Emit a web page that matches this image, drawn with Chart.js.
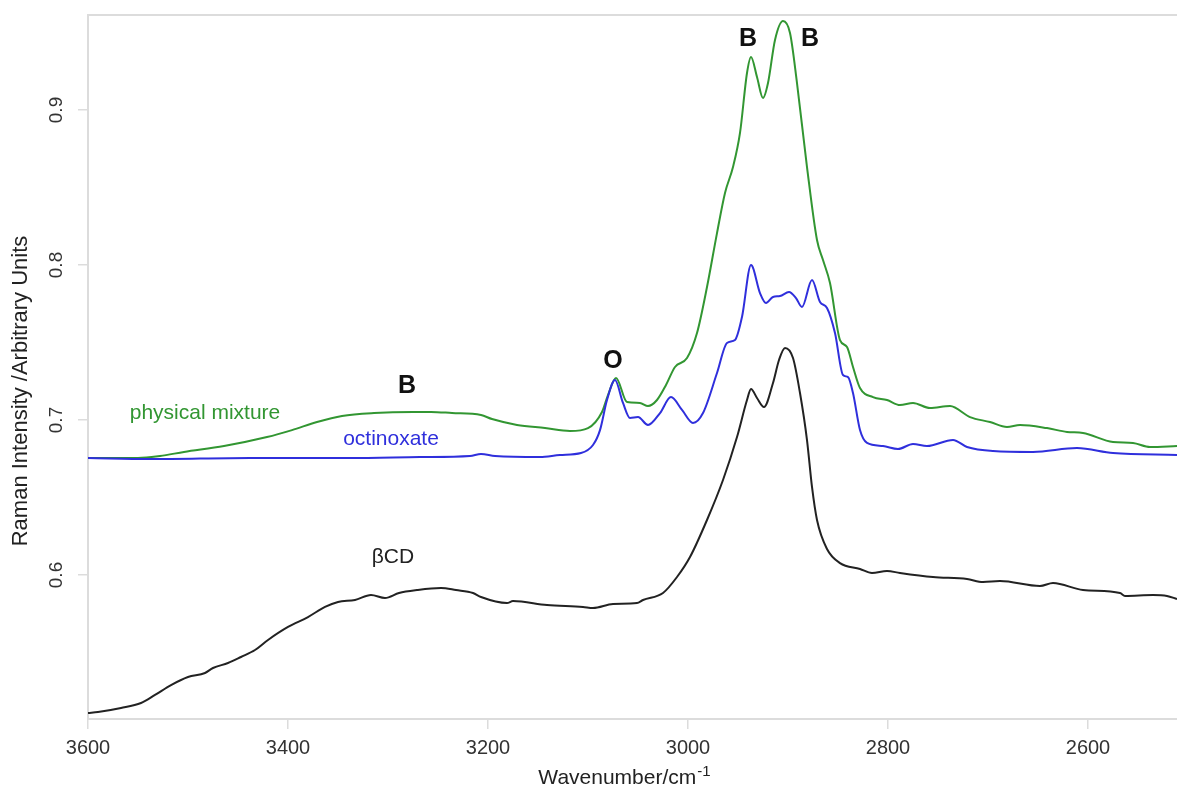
<!DOCTYPE html>
<html lang="en">
<head>
  <meta charset="UTF-8" />
  <title>Raman spectra – βCD, octinoxate, physical mixture</title>
  <script src="https://cdn.jsdelivr.net/npm/chart.js"></script>
  <style>
    html, body { margin: 0; padding: 0; background: #fff; }
    #wrap { position: relative; width: 1177px; height: 791px; }
  </style>
</head>
<body>
  <div id="wrap"><canvas id="raman"></canvas></div>

  <script>
    // axis ticks
    const xTicks = [3600, 3400, 3200, 3000, 2800, 2600];
    const yTicks = [0.6, 0.7, 0.8, 0.9];

    // beta-cyclodextrin
    const bcdWn = [3600, 3590, 3567, 3547, 3533, 3517, 3500, 3483, 3475, 3460, 3447, 3433, 3420, 3400,
      3380, 3363, 3350, 3333, 3317, 3303, 3289, 3271, 3247, 3232, 3215, 3207, 3181, 3175, 3141, 3105,
      3095, 3075, 3051, 3045, 3025, 3011, 2998, 2981, 2965, 2951, 2941, 2937, 2931, 2924, 2915,
      2909, 2903, 2895, 2888, 2881, 2876, 2871, 2861, 2848, 2828, 2816, 2801, 2788, 2755, 2721, 2705,
      2688, 2648, 2635, 2605, 2568, 2563, 2535, 2521, 2511];
    const bcdI = [0.511, 0.5116, 0.5142, 0.5174, 0.5226, 0.529, 0.5342, 0.5368, 0.5400, 0.5432, 0.5471,
      0.5516, 0.5581, 0.5665, 0.5729, 0.5794, 0.5826, 0.5839, 0.5871, 0.5852, 0.5884, 0.5903, 0.5916,
      0.5903, 0.5884, 0.5858, 0.5819, 0.5832, 0.5806, 0.5794, 0.5787, 0.5813, 0.5819, 0.5839, 0.5884,
      0.5987, 0.6116, 0.6355, 0.6613, 0.689, 0.7129, 0.72, 0.7142, 0.7084, 0.7239, 0.7387,
      0.7465, 0.74, 0.7174, 0.6871, 0.6568, 0.6355, 0.6168, 0.6077, 0.6039, 0.6013, 0.6026, 0.6013,
      0.5987, 0.5974, 0.5955, 0.5961, 0.5929, 0.5948, 0.5903, 0.5884, 0.5865, 0.5871, 0.5865, 0.5845];

    // octinoxate
    const octWn = [3600, 3538, 3438, 3338, 3268, 3218, 3207, 3193, 3148, 3128, 3107, 3095, 3088, 3081,
      3073, 3065, 3058, 3050, 3040, 3028, 3017, 3006, 2995, 2985, 2971, 2961, 2953, 2946, 2937, 2928,
      2922, 2915, 2908, 2899, 2892, 2886, 2876, 2868, 2861, 2853, 2845, 2840, 2835, 2828, 2821, 2805,
      2790, 2775, 2761, 2735, 2721, 2695, 2655, 2611, 2575, 2511];
    const octI = [0.6755, 0.6748, 0.6755, 0.6755, 0.6761, 0.6768, 0.6781, 0.6768, 0.6761, 0.6774,
      0.6787, 0.6839, 0.6935, 0.7129, 0.7258, 0.711, 0.7013, 0.7019, 0.6968, 0.7045, 0.7148, 0.7065,
      0.6981, 0.7045, 0.7303, 0.7497, 0.7516, 0.7665, 0.8, 0.7819, 0.7755, 0.7794, 0.78, 0.7826,
      0.7787, 0.7729, 0.7903, 0.7761, 0.7723, 0.7561, 0.729, 0.7277, 0.7174, 0.6935, 0.6852, 0.6832,
      0.6813, 0.6845, 0.6832, 0.6871, 0.6826, 0.68, 0.6794, 0.6819, 0.6787, 0.6774];

    // physical mixture
    const mixWn = [3600, 3550, 3528, 3504, 3464, 3421, 3396, 3371, 3346, 3314, 3275, 3257, 3236, 3207,
      3196, 3171, 3143, 3118, 3100, 3086, 3080, 3072, 3061, 3048, 3040, 3031, 3022, 3013, 3001, 2991,
      2981, 2971, 2963, 2955, 2948, 2941, 2937, 2931, 2925, 2920, 2913, 2905, 2898, 2891, 2881, 2871,
      2865, 2858, 2848, 2841, 2835, 2828, 2815, 2801, 2788, 2775, 2758, 2738, 2718, 2698, 2681, 2668,
      2641, 2621, 2605, 2575, 2555, 2538, 2511];
    const mixI = [0.6755, 0.6755, 0.6768, 0.6794, 0.6832, 0.689, 0.6935, 0.6987, 0.7026, 0.7045,
      0.7052, 0.7052, 0.7045, 0.7032, 0.7006, 0.6968, 0.6948, 0.6929, 0.6948, 0.7052, 0.7161, 0.7271,
      0.7116, 0.711, 0.709, 0.7129, 0.7226, 0.7342, 0.74, 0.7561, 0.7858, 0.8206, 0.8465, 0.8632,
      0.8852, 0.9239, 0.9342, 0.9213, 0.9077, 0.9174, 0.9452, 0.9574, 0.9497, 0.9174, 0.8632, 0.8161,
      0.8032, 0.7884, 0.7516, 0.7471, 0.7342, 0.7206, 0.7148, 0.7129, 0.7097, 0.711, 0.7077, 0.709,
      0.7019, 0.6987, 0.6955, 0.6968, 0.6948, 0.6923, 0.6916, 0.6858, 0.6852, 0.6826, 0.6832];

    const toPoints = (wn, vals) => wn.map((w, i) => ({ x: w, y: vals[i] }));

    const FONT = '"Liberation Sans", Arial, sans-serif';

    // text placed on the plot, in data coordinates
    const notes = [
      { text: 'B', x: 2940, y: 0.9458, font: 'bold 25px ' + FONT, color: '#111' },
      { text: 'B', x: 2878, y: 0.9458, font: 'bold 25px ' + FONT, color: '#111' },
      { text: 'O', x: 3075, y: 0.738, font: 'bold 25px ' + FONT, color: '#111' },
      { text: 'B', x: 3281, y: 0.7219, font: 'bold 25px ' + FONT, color: '#111' },
      { text: 'physical mixture', x: 3483, y: 0.7045, font: '21px ' + FONT, color: '#329632' },
      { text: 'octinoxate', x: 3297, y: 0.6877, font: '21px ' + FONT, color: '#2f2fdc' },
      { text: '\u03b2CD', x: 3295, y: 0.6116, font: '21px ' + FONT, color: '#222' }
    ];

    const frameColor = '#dcdcdc';

    const extras = {
      id: 'extras',
      afterDraw(chart) {
        const { ctx, chartArea: a, scales: { x, y } } = chart;
        ctx.save();

        // top frame line
        ctx.strokeStyle = frameColor;
        ctx.lineWidth = 2;
        ctx.beginPath();
        ctx.moveTo(a.left, a.top);
        ctx.lineTo(a.right, a.top);
        ctx.stroke();

        // y tick labels, rotated
        ctx.fillStyle = '#333';
        ctx.font = '19px ' + FONT;
        ctx.textAlign = 'center';
        ctx.textBaseline = 'middle';
        yTicks.forEach(v => {
          ctx.save();
          ctx.translate(57, y.getPixelForValue(v));
          ctx.rotate(-Math.PI / 2);
          ctx.fillText(v.toFixed(1), 0, 0);
          ctx.restore();
        });

        // y axis title
        ctx.save();
        ctx.fillStyle = '#222';
        ctx.font = '22px ' + FONT;
        ctx.translate(21, 391);
        ctx.rotate(-Math.PI / 2);
        ctx.fillText('Raman Intensity /Arbitrary Units', 0, 0);
        ctx.restore();

        // x axis title with superscript
        ctx.fillStyle = '#222';
        ctx.textBaseline = 'alphabetic';
        ctx.textAlign = 'left';
        const main = 'Wavenumber/cm';
        ctx.font = '21px ' + FONT;
        const wMain = ctx.measureText(main).width;
        ctx.font = '15px ' + FONT;
        const wSup = ctx.measureText('-1').width;
        const x0 = 624 - (wMain + wSup) / 2;
        ctx.font = '21px ' + FONT;
        ctx.fillText(main, x0, 784);
        ctx.font = '15px ' + FONT;
        ctx.fillText('-1', x0 + wMain + 1, 776);

        // annotations
        ctx.textAlign = 'center';
        ctx.textBaseline = 'middle';
        notes.forEach(n => {
          ctx.font = n.font;
          ctx.fillStyle = n.color;
          ctx.fillText(n.text, x.getPixelForValue(n.x), y.getPixelForValue(n.y));
        });

        ctx.restore();
      }
    };

    const line = (label, data, color) => ({
      label,
      data,
      borderColor: color,
      borderWidth: 2,
      pointRadius: 0,
      tension: 0.4,
      cubicInterpolationMode: 'monotone',
      fill: false
    });

    new Chart(document.getElementById('raman'), {
      type: 'line',
      data: {
        datasets: [
          line('βCD', toPoints(bcdWn, bcdI), '#222222'),
          line('octinoxate', toPoints(octWn, octI), '#2f2fdc'),
          line('physical mixture', toPoints(mixWn, mixI), '#329632')
        ]
      },
      options: {
        responsive: true,
        maintainAspectRatio: false,
        animation: false,
        layout: { padding: { top: 15, right: 0, left: 0, bottom: 0 } },
        plugins: { legend: { display: false }, tooltip: { enabled: false } },
        scales: {
          x: {
            type: 'linear',
            reverse: true,
            min: 2511,
            max: 3600,
            afterBuildTicks: s => { s.ticks = xTicks.map(v => ({ value: v })); },
            afterFit: s => { s.height = 72; },
            ticks: {
              color: '#333',
              font: { family: FONT, size: 20 },
              padding: 7,
              maxRotation: 0,
              callback: v => String(v)
            },
            grid: { drawOnChartArea: false, color: frameColor, tickLength: 10, lineWidth: 1.5 },
            border: { color: frameColor, width: 2 }
          },
          y: {
            min: 0.5071,
            max: 0.9613,
            afterBuildTicks: s => { s.ticks = yTicks.map(v => ({ value: v })); },
            afterFit: s => { s.width = 88; },
            ticks: { color: 'transparent', callback: () => '' },
            grid: { drawOnChartArea: false, color: frameColor, tickLength: 10, lineWidth: 1.5 },
            border: { color: frameColor, width: 2 }
          }
        }
      },
      plugins: [extras]
    });
  </script>
</body>
</html>
